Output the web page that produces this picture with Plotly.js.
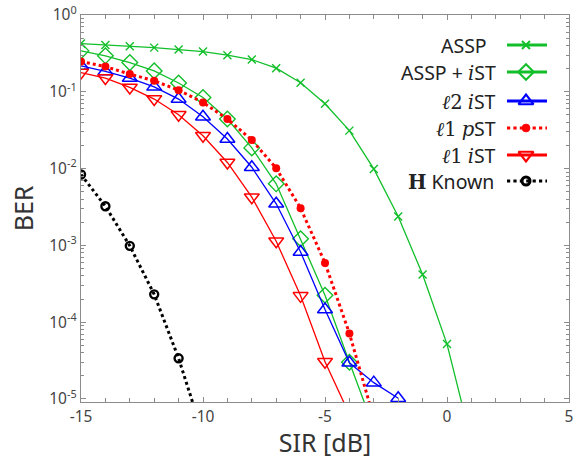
<!DOCTYPE html>
<html>
<head>
<meta charset="utf-8">
<script src="https://cdn.plot.ly/plotly-3.0.1.min.js"></script>
<style>html,body{margin:0;padding:0;background:#fff;}#chart{width:585px;height:459px;}</style>
</head>
<body>
<div id="chart"></div>
<script>
// ---- data ----
const sirAssp = [-15,-14,-13,-12,-11,-10,-9,-8,-7,-6,-5,-4,-3,-2,-1,0,1];
const berAssp = [0.424,0.408,0.392,0.376,0.355,0.334,0.300,0.263,0.203,0.131,0.0698,0.0312,0.0099,0.00238,4.17e-4,5.18e-5,2.8e-6];
const sirAsspIst = [-15,-14,-13,-12,-11,-10,-9,-8,-7,-6,-5,-4,-3];
const berAsspIst = [0.341,0.294,0.240,0.187,0.130,0.0843,0.0442,0.0186,0.00633,0.00122,2.24e-4,3.0e-5,4.2e-6];
const sirL2Ist = [-15,-14,-13,-12,-11,-10,-9,-8,-7,-6,-5,-4,-3,-2];
const berL2Ist = [0.218,0.184,0.151,0.116,0.0804,0.0473,0.0243,0.0104,0.00348,8.18e-4,1.46e-4,2.96e-5,1.63e-5,1.02e-5];
const sirL1Pst = [-15,-14,-13,-12,-11,-10,-9,-8,-7,-6,-5,-4,-3];
const berL1Pst = [0.248,0.213,0.170,0.139,0.105,0.0726,0.0442,0.0236,0.0101,0.00305,5.89e-4,7.13e-5,5.6e-6];
const sirL1Ist = [-15,-14,-13,-12,-11,-10,-9,-8,-7,-6,-5,-4];
const berL1Ist = [0.178,0.151,0.114,0.0804,0.0503,0.0268,0.0120,0.00424,0.00113,2.2e-4,3.05e-5,6.3e-6];
const sirHKnown = [-15,-14,-13,-12,-11,-10];
const berHKnown = [0.00836,0.00323,9.86e-4,2.3e-4,3.38e-5,3.4e-6];

const xTickVals = [-15,-10,-5,0,5];
const xTickText = ['-15','-10','-5','0','5'];
const yTickVals = [1,0.1,0.01,0.001,0.0001,0.00001];
const yTickText = ['10<sup>0</sup>','10<sup>-1</sup>','10<sup>-2</sup>','10<sup>-3</sup>','10<sup>-4</sup>','10<sup>-5</sup>'];

const SERIF = "font-family:'DejaVu Serif','Liberation Serif',serif;";
const legendLabels = [
  'ASSP',
  "ASSP + <span style=\"" + SERIF + "font-style:italic\">i</span>ST",
  "<span style=\"" + SERIF + "font-style:italic\">ℓ</span><span style=\"" + SERIF + "\">2</span> <span style=\"" + SERIF + "font-style:italic\">i</span>ST",
  "<span style=\"" + SERIF + "font-style:italic\">ℓ</span><span style=\"" + SERIF + "\">1</span> <span style=\"" + SERIF + "font-style:italic\">p</span>ST",
  "<span style=\"" + SERIF + "font-style:italic\">ℓ</span><span style=\"" + SERIF + "\">1</span> <span style=\"" + SERIF + "font-style:italic\">i</span>ST",
  "<b style=\"" + SERIF + "\">H</b> Known"
];

const GREEN = '#12bf2a', BLUE = '#0000ff', RED = '#ff0000', BLACK = '#000000';

const styles = [
  {x: sirAssp, y: berAssp, color: GREEN, dash: 'solid', lw: 1.3, sym: 'x-thin-open', size: 8, mlw: 1.4, lgw: 2.8},
  {x: sirAsspIst, y: berAsspIst, color: GREEN, dash: 'solid', lw: 1.3, sym: 'diamond-open', size: 12, mlw: 1.4, lgw: 2.8},
  {x: sirL2Ist, y: berL2Ist, color: BLUE, dash: 'solid', lw: 1.3, sym: 'triangle-up-open', size: 13, mlw: 1.5, lgw: 2.8},
  {x: sirL1Pst, y: berL1Pst, color: RED, dash: 'dot', lw: 3, sym: 'circle', size: 8, mlw: 0, lgw: 3.2},
  {x: sirL1Ist, y: berL1Ist, color: RED, dash: 'solid', lw: 1.3, sym: 'triangle-down-open', size: 13, mlw: 1.5, lgw: 2.8},
  {x: sirHKnown, y: berHKnown, color: BLACK, dash: 'dot', lw: 3, sym: 'circle-open', size: 8, mlw: 2.4, lgw: 3.2}
];

const traces = [];
styles.forEach((s, i) => {
  traces.push({
    type: 'scatter', mode: 'lines+markers', x: s.x, y: s.y, name: 'series' + i,
    line: {color: s.color, width: s.lw, dash: s.dash},
    marker: {symbol: s.sym, size: s.size, color: s.color, line: {color: s.color, width: s.mlw}},
    showlegend: false
  });
});

// custom legend (text on the left, sample on the right) drawn on an overlay axis in plot pixels
const legRows = [30, 57, 86, 113, 140, 166];
const legTextOffset = [-9, 0, 0, 0, 0, -2];
const legX0 = 426, legXm = 445, legX1 = 466, legTextX = 417;
const annotations = [];
styles.forEach((s, i) => {
  traces.push({
    type: 'scatter', mode: 'lines+markers', xaxis: 'x2', yaxis: 'y2', hoverinfo: 'skip', showlegend: false,
    x: [legX0, legXm, legX1], y: [legRows[i], legRows[i], legRows[i]],
    line: {color: s.color, width: s.lgw, dash: s.dash},
    marker: {symbol: s.sym, size: s.size, color: s.color, opacity: [0, 1, 0], line: {color: s.color, width: s.mlw + 0.6}}
  });
  annotations.push({
    xref: 'x2', yref: 'y2', x: legTextX + legTextOffset[i], y: legRows[i], xanchor: 'right', yanchor: 'middle',
    text: legendLabels[i], showarrow: false,
    font: {family: 'Noto Sans, sans-serif', size: 19.5, color: '#222'}
  });
});

const axisCommon = {
  showline: true, linecolor: '#8c8c8c', linewidth: 1.3, mirror: 'ticks',
  ticks: 'inside', tickcolor: '#8c8c8c', ticklen: 5, tickwidth: 1,
  showgrid: false, zeroline: false,
  tickfont: {family: 'Noto Sans, sans-serif', size: 15.5, color: '#444'}
};

const layout = {
  width: 585, height: 459,
  margin: {l: 81, r: 16, t: 15, b: 57},
  paper_bgcolor: '#ffffff', plot_bgcolor: '#ffffff',
  showlegend: false,
  xaxis: Object.assign({}, axisCommon, {
    range: [-15, 5], tickmode: 'array', tickvals: xTickVals, ticktext: xTickText,
    minor: {dtick: 1, ticks: 'inside', ticklen: 4, tickcolor: '#8c8c8c'},
    title: {text: 'SIR [dB]', font: {family: 'Noto Sans, sans-serif', size: 25, color: '#333'}, standoff: 4}
  }),
  yaxis: Object.assign({}, axisCommon, {
    type: 'log', range: [-5.04, 0], tickmode: 'array', tickvals: yTickVals, ticktext: yTickText,
    minor: {dtick: 'D1', ticks: 'inside', ticklen: 3, tickcolor: '#8c8c8c'},
    title: {text: 'BER', font: {family: 'Noto Sans, sans-serif', size: 25, color: '#333'}, standoff: 8}
  }),
  xaxis2: {overlaying: 'x', range: [0, 488], visible: false, fixedrange: true},
  yaxis2: {overlaying: 'y', range: [387, 0], visible: false, fixedrange: true},
  annotations: annotations
};

Plotly.newPlot('chart', traces, layout, {staticPlot: true, displayModeBar: false});
</script>
</body>
</html>
